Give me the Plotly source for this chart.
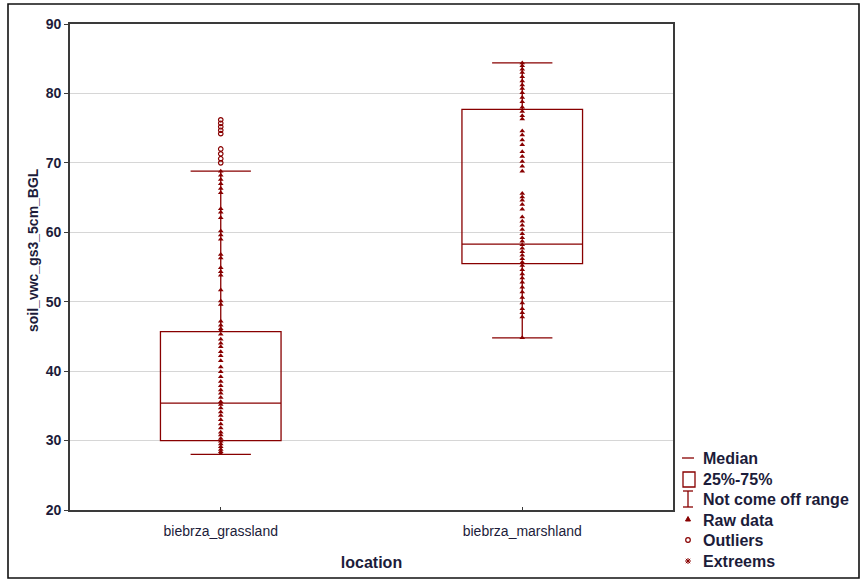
import plotly.graph_objects as go

categories = ["biebrza_grassland", "biebrza_marshland"]

# box statistics
q1 = [30.0, 55.5]
median = [35.4, 58.3]
q3 = [45.7, 77.7]
lower = [28.0, 44.8]
upper = [68.8, 84.4]

grass_raw = [68.8, 68.2, 67.6, 67.0, 66.3, 65.7, 63.4, 62.9, 62.1, 60.2, 59.6, 59.0,
             56.8, 56.3, 54.9, 54.3, 53.8, 51.7, 50.1, 49.6, 47.2, 46.6, 46.1,
             45.8, 45.3, 44.6, 44.0, 43.5, 42.8, 42.2, 41.5, 40.6, 39.9, 39.2, 38.5,
             37.9, 37.3, 36.8, 36.2, 35.6, 35.2, 34.7, 34.1, 33.6, 33.0, 32.4, 31.8,
             31.2, 30.8, 30.3, 29.9, 29.5, 29.1, 28.7, 28.4, 28.1]
grass_out = [76.2, 75.7, 75.2, 74.7, 74.2, 72.0, 71.3, 70.6, 70.0]

marsh_raw = [84.4, 84.0, 83.5, 83.0, 82.4, 81.8, 81.2, 80.7, 80.1, 79.4, 78.8, 78.0,
             77.4, 76.8, 76.3, 74.6, 74.0, 73.3, 72.6, 71.6, 70.9, 70.2, 69.5, 68.8,
             65.6, 65.1, 64.6, 64.0, 63.3, 62.2, 61.6, 61.0, 60.4, 59.8, 59.2, 58.7,
             58.2, 57.7, 57.2, 56.7, 56.2, 55.7, 55.2, 54.6, 54.0, 53.4, 52.8, 52.1,
             51.4, 50.6, 49.8, 49.0, 48.4, 47.8, 44.8]

legend_labels = ["Median", "25%-75%", "Not come off range", "Raw data", "Outliers", "Extreems"]

y_ticks = [20, 30, 40, 50, 60, 70, 80, 90]
y_title = "soil_vwc_gs3_5cm_BGL"

RED = "#880000"
TXT = "#1c1c3a"
FONT = "Liberation Sans, Arial, sans-serif"

W, H = 861, 580
L, R, T, B = 70, 188, 24, 70
PW, PH = W - L - R, H - T - B


def px(x):
    return (x - L) / PW


def py(y):
    return (H - B - y) / PH


fig = go.Figure()

for i, c in enumerate(categories):
    fig.add_trace(go.Box(
        x=[c], q1=[q1[i]], median=[median[i]], q3=[q3[i]],
        lowerfence=[lower[i]], upperfence=[upper[i]],
        width=0.4, whiskerwidth=0.5,
        line=dict(color=RED, width=1.3), fillcolor="rgba(0,0,0,0)",
        boxpoints=False, showlegend=False, hoverinfo="skip",
    ))

fig.add_trace(go.Scatter(
    x=[categories[0]] * len(grass_raw), y=grass_raw, mode="markers",
    marker=dict(symbol="triangle-up", size=5, color=RED), showlegend=False))
fig.add_trace(go.Scatter(
    x=[categories[0]] * len(grass_out), y=grass_out, mode="markers",
    marker=dict(symbol="circle-open", size=4.5, color=RED, line=dict(width=1.2)), showlegend=False))
fig.add_trace(go.Scatter(
    x=[categories[1]] * len(marsh_raw), y=marsh_raw, mode="markers",
    marker=dict(symbol="triangle-up", size=5, color=RED), showlegend=False))

shapes = []
# outer border
shapes.append(dict(type="rect", xref="paper", yref="paper",
                   x0=px(8), x1=px(859), y0=py(578), y1=py(4),
                   line=dict(color="#111111", width=1.6)))

# legend symbols
rows = [458, 479, 499, 520, 540, 561]
cx = 688
shapes.append(dict(type="line", xref="paper", yref="paper",
                   x0=px(682), x1=px(694), y0=py(rows[0]), y1=py(rows[0]),
                   line=dict(color=RED, width=1.3)))
shapes.append(dict(type="rect", xref="paper", yref="paper",
                   x0=px(683), x1=px(695), y0=py(rows[1] + 8), y1=py(rows[1] - 7),
                   line=dict(color=RED, width=1.3)))
shapes.append(dict(type="line", xref="paper", yref="paper",
                   x0=px(cx), x1=px(cx), y0=py(rows[2] + 8), y1=py(rows[2] - 8),
                   line=dict(color=RED, width=1.3)))
for yy in (rows[2] + 8, rows[2] - 8):
    shapes.append(dict(type="line", xref="paper", yref="paper",
                       x0=px(cx - 5), x1=px(cx + 5), y0=py(yy), y1=py(yy),
                       line=dict(color=RED, width=1.3)))
# triangle
tx, ty = cx, rows[3] - 1
shapes.append(dict(type="path", xref="paper", yref="paper",
                   path=f"M {px(tx-2.5)} {py(ty+2)} L {px(tx+2.5)} {py(ty+2)} L {px(tx)} {py(ty-2.5)} Z",
                   fillcolor=RED, line=dict(color=RED, width=1)))
# circle
shapes.append(dict(type="circle", xref="paper", yref="paper",
                   x0=px(cx - 2.3), x1=px(cx + 2.3), y0=py(rows[4] + 2.3), y1=py(rows[4] - 2.3),
                   line=dict(color=RED, width=1.2)))
# asterisk
ey = rows[5]
for (dx1, dy1, dx2, dy2) in [(-3, 0, 3, 0), (0, -3, 0, 3), (-2.2, -2.2, 2.2, 2.2), (-2.2, 2.2, 2.2, -2.2)]:
    shapes.append(dict(type="line", xref="paper", yref="paper",
                       x0=px(cx + dx1), x1=px(cx + dx2), y0=py(ey + dy1), y1=py(ey + dy2),
                       line=dict(color=RED, width=1)))

annotations = []
for lab, yy in zip(legend_labels, rows):
    annotations.append(dict(xref="paper", yref="paper", x=px(701), y=py(yy),
                            xanchor="left", yanchor="middle", showarrow=False,
                            text=f"<b>{lab}</b>",
                            font=dict(family=FONT, size=16, color=TXT)))
# y-axis title
annotations.append(dict(xref="paper", yref="paper", x=px(33), y=py(250),
                        xanchor="center", yanchor="middle", showarrow=False,
                        textangle=-90, text=f"<b>{y_title}</b>",
                        font=dict(family=FONT, size=14, color=TXT)))

fig.update_layout(
    width=W, height=H,
    margin=dict(l=L, r=R, t=T, b=B),
    paper_bgcolor="white", plot_bgcolor="white",
    shapes=shapes, annotations=annotations,
    font=dict(family=FONT, color=TXT),
)

fig.update_xaxes(
    type="category", categoryorder="array", categoryarray=categories,
    range=[-0.5, 1.5],
    showline=True, mirror=True, linecolor="#3a3a3a", linewidth=1.6,
    ticks="inside", ticklen=3, tickcolor="#3a3a3a",
    showgrid=False, ticklabelstandoff=7,
    tickfont=dict(family=FONT, size=14, color=TXT),
    title=dict(text="<b>location</b>", font=dict(family=FONT, size=16, color=TXT), standoff=19),
)
fig.update_yaxes(
    range=[20, 90], tickvals=y_ticks,
    showline=True, mirror=True, linecolor="#3a3a3a", linewidth=1.6,
    ticks="outside", ticklen=4, tickcolor="#3a3a3a",
    showgrid=True, gridcolor="#d6d6d6", gridwidth=1, zeroline=False,
    tickfont=dict(family=FONT, size=14, color=TXT, weight="bold"),
)

fig.write_html("out.html")
